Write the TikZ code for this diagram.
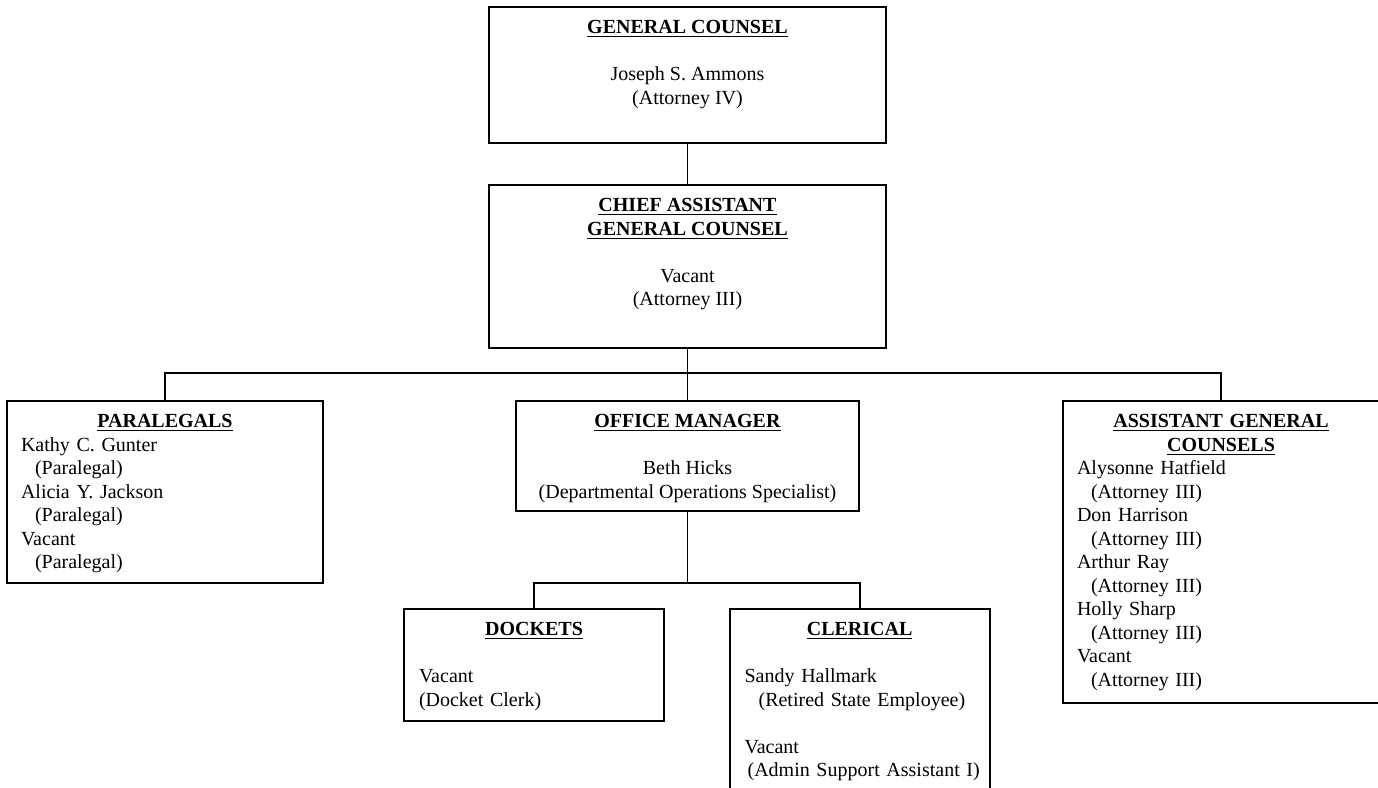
\documentclass[tikz,border=0pt]{standalone}
\usepackage{fontspec}
\setmainfont{Liberation Serif}
\usepackage{tikz}
\usetikzlibrary{positioning}
\tikzset{unit/.style={draw, line width=0.8pt, inner sep=0pt, anchor=north}}
\tikzset{txt/.style={inner sep=0pt, font=\fontsize{10}{11.75}\selectfont}}
\tikzset{link/.style={line width=0.6pt}}
\newcommand{\ttl}[1]{\underline{\textbf{#1}}}
\newcommand{\ctl}[1]{\makebox[\linewidth]{\ttl{#1}}}
\newcommand{\ind}{\hspace*{7pt}}

\begin{document}
\begin{tikzpicture}[x=0.5pt, y=-0.5pt]
      \useasboundingbox (0,0) rectangle (1378,788);
      \clip (0,0) rectangle (1378,788);

      \node[unit, minimum width=198.5pt, minimum height=68pt] (gc) at (687.5,6) {};
      \node[txt, align=center, below=7pt of gc.north] (gct)
      {\ttl{GENERAL COUNSEL}\\[11.75pt] Joseph S. Ammons\\ (Attorney IV)};

      \node[unit, minimum width=198.5pt, minimum height=81.5pt] (cagc) at (687.5,184) {};
      \node[txt, align=center, below=7pt of cagc.north] (cagct)
      {\ttl{CHIEF ASSISTANT}\\ \ttl{GENERAL COUNSEL}\\[11.75pt] Vacant\\ (Attorney III)};

      \node[unit, minimum width=158pt, minimum height=91pt] (para) at (165,400) {};
      \node[txt, align=left, text width=144pt, below=7pt of para.north] (parat)
      {\ctl{PARALEGALS}\\ Kathy C. Gunter\\ \ind(Paralegal)\\ Alicia Y. Jackson\\
       \ind(Paralegal)\\ Vacant\\ \ind(Paralegal)};

      \node[unit, minimum width=171.5pt, minimum height=55pt] (om) at (687.5,400) {};
      \node[txt, align=center, below=7pt of om.north] (omt)
      {\ttl{OFFICE MANAGER}\\[11.75pt] Beth Hicks\\ (Departmental Operations Specialist)};

      \node[unit, minimum width=158pt, minimum height=151pt] (agc) at (1221,400) {};
      \node[txt, align=left, text width=144pt, below=7pt of agc.north] (agct)
      {\ctl{ASSISTANT GENERAL}\\ \ctl{COUNSELS}\\ Alysonne Hatfield\\ \ind(Attorney III)\\
       Don Harrison\\ \ind(Attorney III)\\ Arthur Ray\\ \ind(Attorney III)\\
       Holly Sharp\\ \ind(Attorney III)\\ Vacant\\ \ind(Attorney III)};

      \node[unit, minimum width=130pt, minimum height=56pt] (dock) at (534,608) {};
      \node[txt, align=left, text width=115pt, below=7pt of dock.north] (dockt)
      {\ctl{DOCKETS}\\[11.75pt] Vacant\\ (Docket Clerk)};

      \node[unit, minimum width=130pt, minimum height=100pt] (cler) at (860,608) {};
      \node[txt, align=left, text width=120pt, anchor=north west,
            below right=7pt and 7.5pt of cler.north west] (clert)
      {\makebox[115pt]{\ttl{CLERICAL}}\\[11.75pt] Sandy Hallmark\\ \ind(Retired State Employee)\\[11.75pt]
       Vacant\\ \hspace*{1.5pt}(Admin Support Assistant I)};

      \coordinate (bus) at (687.5,373);
      \coordinate (sub) at (687.5,583);
      \draw[link] (gc) -- (cagc);
      \draw[link] (cagc) -- (bus);
      \draw[link] (para) |- (bus) -| (agc);
      \draw[link] (bus) -- (om);
      \draw[link] (om) -- (sub);
      \draw[link] (dock) |- (sub) -| (cler);

    \end{tikzpicture}
\end{document}
